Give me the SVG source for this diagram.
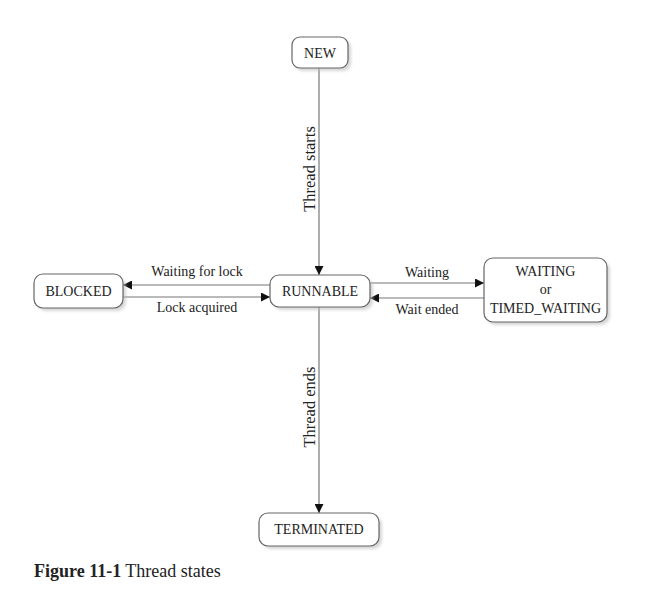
<svg xmlns="http://www.w3.org/2000/svg" width="662" height="591" viewBox="0 0 662 591">
<style>
.box{fill:#fff;stroke:#666;stroke-width:1.2}
.sh{fill:#bbb;opacity:0.6}
.t{font-family:"Liberation Serif",serif;font-size:14px;fill:#222;text-anchor:middle}
.v{font-size:16.5px}
.ln{stroke:#777;stroke-width:1.2;fill:none}
</style>
<defs>
<marker id="ah" viewBox="0 0 10 10" refX="10" refY="5" markerWidth="9" markerHeight="9" markerUnits="userSpaceOnUse" orient="auto">
<path d="M0,0 L10,5 L0,10 z" fill="#111"/>
</marker>
<filter id="blur" x="-20%" y="-20%" width="140%" height="140%"><feGaussianBlur stdDeviation="1.5"/></filter>
</defs>
<rect width="662" height="591" fill="#fff"/>
<g id="connectors">
<line class="ln" x1="319" y1="68" x2="319" y2="275" marker-end="url(#ah)"/>
<line class="ln" x1="319" y1="307" x2="319" y2="513" marker-end="url(#ah)"/>
<line class="ln" x1="270" y1="285" x2="123" y2="285" marker-end="url(#ah)"/>
<line class="ln" x1="123" y1="297" x2="270" y2="297" marker-end="url(#ah)"/>
<line class="ln" x1="370" y1="283" x2="484" y2="283" marker-end="url(#ah)"/>
<line class="ln" x1="484" y1="298" x2="370" y2="298" marker-end="url(#ah)"/>
<text class="t" x="197" y="276">Waiting for lock</text>
<text class="t" x="197" y="312">Lock acquired</text>
<text class="t" x="427" y="277">Waiting</text>
<text class="t" x="427" y="314">Wait ended</text>
<text class="t v" transform="translate(315,169) rotate(-90)">Thread starts</text>
<text class="t v" transform="translate(315,407) rotate(-90)">Thread ends</text>
</g>
<g id="new">
<rect class="sh" x="295" y="40" width="56" height="31" rx="8" filter="url(#blur)"/>
<rect class="box" x="292" y="37" width="56" height="31" rx="8"/>
<text class="t" x="320" y="58">NEW</text>
</g>
<g id="blocked">
<rect class="sh" x="37" y="277" width="89" height="34" rx="9" filter="url(#blur)"/>
<rect class="box" x="34" y="274" width="89" height="34" rx="9"/>
<text class="t" x="78.5" y="296">BLOCKED</text>
</g>
<g id="runnable">
<rect class="sh" x="273" y="278" width="100" height="32" rx="9" filter="url(#blur)"/>
<rect class="box" x="270" y="275" width="100" height="32" rx="9"/>
<text class="t" x="320" y="296">RUNNABLE</text>
</g>
<g id="waiting">
<rect class="sh" x="487" y="261" width="123" height="64" rx="9" filter="url(#blur)"/>
<rect class="box" x="484" y="258" width="123" height="64" rx="9"/>
<text class="t" x="545.5" y="276">WAITING</text>
<text class="t" x="545.5" y="294">or</text>
<text class="t" x="545.5" y="313">TIMED_WAITING</text>
</g>
<g id="terminated">
<rect class="sh" x="262" y="516" width="120" height="33" rx="9" filter="url(#blur)"/>
<rect class="box" x="259" y="513" width="120" height="33" rx="9"/>
<text class="t" x="319" y="534">TERMINATED</text>
</g>
<text x="34" y="577" font-family="Liberation Serif,serif" font-size="18" fill="#222"><tspan font-weight="bold">Figure 11-1</tspan> Thread states</text>
</svg>
